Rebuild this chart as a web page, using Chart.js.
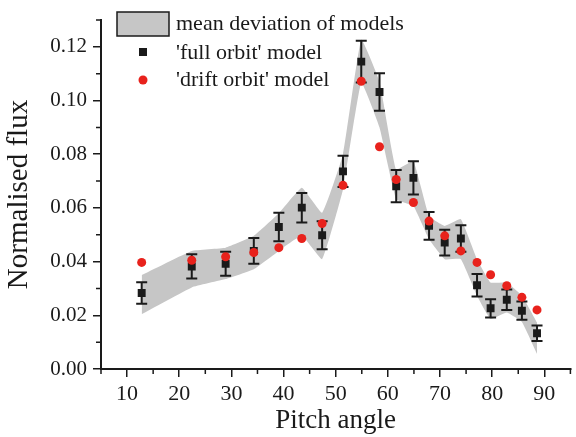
<!DOCTYPE html>
<html>
<head>
<meta charset="utf-8">
<script src="https://cdn.jsdelivr.net/npm/chart.js@4/dist/chart.umd.min.js"></script>
<style>
  html, body { margin: 0; padding: 0; background: #fff; }
  #wrap { width: 576px; height: 437px; }
</style>
</head>
<body>
<div id="wrap"><canvas id="fluxChart" width="576" height="437"></canvas></div>
<script>
// pitch angles of the measurement points
const angles = [12.8, 22.4, 28.9, 34.3, 39.1, 43.5, 47.4, 51.4, 54.9, 58.4,
                61.6, 64.9, 67.9, 70.9, 74.0, 77.1, 79.7, 82.8, 85.7, 88.6];

// 'full orbit' model and its error bars
const fullOrbit = [0.0283, 0.0382, 0.0392, 0.0440, 0.0529, 0.0601, 0.0498, 0.0736, 0.1145, 0.1032,
                   0.0681, 0.0712, 0.0533, 0.0471, 0.0486, 0.0312, 0.0226, 0.0258, 0.0217, 0.0133];
const fullErr = [0.0040, 0.0045, 0.0045, 0.0048, 0.0053, 0.0055, 0.0052, 0.0058, 0.0078, 0.0070,
                 0.0060, 0.0062, 0.0052, 0.0048, 0.0049, 0.0042, 0.0034, 0.0038, 0.0034, 0.0029];

// 'drift orbit' model
const driftOrbit = [0.0397, 0.0405, 0.0418, 0.0434, 0.0452, 0.0486, 0.0542, 0.0684, 0.1072, 0.0828,
                    0.0706, 0.0620, 0.0551, 0.0496, 0.0440, 0.0397, 0.0351, 0.0310, 0.0267, 0.0220];

// mean deviation of models (band edges)
const bandUpper = [0.0350, 0.0440, 0.0452, 0.0496, 0.0580, 0.0675, 0.0582, 0.0800, 0.1227, 0.1070,
                   0.0743, 0.0774, 0.0570, 0.0533, 0.0558, 0.0409, 0.0322, 0.0322, 0.0273, 0.0173];
const bandLower = [0.0204, 0.0304, 0.0335, 0.0372, 0.0440, 0.0496, 0.0409, 0.0669, 0.1067, 0.0900,
                   0.0632, 0.0607, 0.0483, 0.0409, 0.0409, 0.0273, 0.0186, 0.0210, 0.0175, 0.0056];

const xTicks = [10, 20, 30, 40, 50, 60, 70, 80, 90];
const xMinorTicks = [5, 15, 25, 35, 45, 55, 65, 75, 85, 95];
const yTicks = [0, 0.02, 0.04, 0.06, 0.08, 0.10, 0.12];
const yMinorTicks = [0.01, 0.03, 0.05, 0.07, 0.09, 0.11, 0.13];

const SERIF = "'Liberation Serif', 'Times New Roman', serif";
const INK = '#1a1a1a';
const BAND = '#c6c6c6';
const RED = '#e8221c';

const pts = (ys) => angles.map((x, i) => ({ x: x, y: ys[i] }));

// error bars drawn just before the square markers
const errorBars = {
    id: 'errorBars',
    beforeDatasetDraw(chart, args) {
        if (args.index !== 1) return;
        const { ctx, scales: { x, y } } = chart;
        ctx.save();
        ctx.strokeStyle = INK;
        ctx.lineWidth = 2;
        angles.forEach((a, i) => {
            const px = x.getPixelForValue(a);
            const top = y.getPixelForValue(fullOrbit[i] + fullErr[i]);
            const bot = y.getPixelForValue(fullOrbit[i] - fullErr[i]);
            ctx.beginPath();
            ctx.moveTo(px, top); ctx.lineTo(px, bot);
            ctx.moveTo(px - 5.5, top); ctx.lineTo(px + 5.5, top);
            ctx.moveTo(px - 5.5, bot); ctx.lineTo(px + 5.5, bot);
            ctx.stroke();
        });
        ctx.restore();
    }
};

// minor tick marks on both axes
const minorTicks = {
    id: 'minorTicks',
    afterDraw(chart) {
        const { ctx, scales: { x, y }, chartArea } = chart;
        ctx.save();
        ctx.strokeStyle = INK;
        ctx.lineWidth = 1.5;
        ctx.beginPath();
        xMinorTicks.forEach(v => {
            const px = x.getPixelForValue(v);
            ctx.moveTo(px, chartArea.bottom);
            ctx.lineTo(px, chartArea.bottom + 5);
        });
        yMinorTicks.forEach(v => {
            const py = y.getPixelForValue(v);
            ctx.moveTo(chartArea.left, py);
            ctx.lineTo(chartArea.left - 5, py);
        });
        ctx.stroke();
        ctx.restore();
    }
};

// legend in the top left corner
const boxLegend = {
    id: 'boxLegend',
    afterDraw(chart) {
        const { ctx } = chart;
        ctx.save();
        ctx.font = '22px ' + SERIF;
        ctx.textBaseline = 'middle';
        ctx.textAlign = 'left';

        ctx.fillStyle = BAND;
        ctx.fillRect(117, 12, 52, 24);
        ctx.strokeStyle = INK;
        ctx.lineWidth = 1.5;
        ctx.strokeRect(117, 12, 52, 24);
        ctx.fillStyle = INK;
        ctx.fillText('mean deviation of models', 176, 24);

        ctx.fillRect(139, 48, 8, 8);
        ctx.fillText("'full orbit' model", 176, 53);

        ctx.fillStyle = RED;
        ctx.beginPath();
        ctx.arc(143, 80, 4.5, 0, Math.PI * 2);
        ctx.fill();
        ctx.fillStyle = INK;
        ctx.fillText("'drift orbit' model", 176, 80);
        ctx.restore();
    }
};

const ctx = document.getElementById('fluxChart').getContext('2d');
const fluxChart = new Chart(ctx, {
    type: 'scatter',
    data: {
        datasets: [
            {
                label: "'drift orbit' model",
                data: pts(driftOrbit),
                backgroundColor: RED,
                borderWidth: 0,
                pointRadius: 4.5,
                order: 0
            },
            {
                label: "'full orbit' model",
                data: pts(fullOrbit),
                backgroundColor: INK,
                borderWidth: 0,
                pointStyle: 'rect',
                pointRadius: 5.6,
                order: 1
            },
            {
                label: 'mean deviation of models',
                data: pts(bandUpper),
                showLine: true,
                borderWidth: 0,
                borderColor: 'rgba(0,0,0,0)',
                backgroundColor: BAND,
                pointRadius: 0,
                tension: 0.1,
                fill: '+1',
                order: 2
            },
            {
                label: 'band lower',
                data: pts(bandLower),
                showLine: true,
                borderWidth: 0,
                borderColor: 'rgba(0,0,0,0)',
                pointRadius: 0,
                tension: 0.1,
                fill: false,
                order: 3
            }
        ]
    },
    options: {
        responsive: false,
        animation: false,
        layout: { padding: { top: 20, right: 4, left: 0, bottom: 0 } },
        plugins: {
            legend: { display: false },
            tooltip: { enabled: false }
        },
        scales: {
            x: {
                type: 'linear',
                min: 5,
                max: 95,
                afterFit: (scale) => { scale.height = 68; },
                afterBuildTicks: (scale) => { scale.ticks = xTicks.map(v => ({ value: v })); },
                border: { display: true, color: INK, width: 2 },
                grid: { drawOnChartArea: false, drawTicks: true, tickLength: 8, color: INK, lineWidth: 1.5 },
                ticks: {
                    padding: 4,
                    color: INK,
                    font: { family: SERIF, size: 22 }
                },
                title: {
                    display: true,
                    text: 'Pitch angle',
                    color: INK,
                    font: { family: SERIF, size: 27 },
                    padding: { top: 0, bottom: 0 }
                }
            },
            y: {
                type: 'linear',
                min: 0,
                max: 0.13,
                afterFit: (scale) => { scale.width = 101; },
                afterBuildTicks: (scale) => { scale.ticks = yTicks.map(v => ({ value: v })); },
                border: { display: true, color: INK, width: 2 },
                grid: { drawOnChartArea: false, drawTicks: true, tickLength: 8, color: INK, lineWidth: 1.5 },
                ticks: {
                    padding: 6,
                    color: INK,
                    font: { family: SERIF, size: 21 },
                    callback: (v) => v.toFixed(2)
                },
                title: {
                    display: true,
                    text: 'Normalised flux',
                    color: INK,
                    font: { family: SERIF, size: 29 },
                    padding: { top: 2, bottom: 0 }
                }
            }
        }
    },
    plugins: [errorBars, minorTicks, boxLegend]
});
</script>
</body>
</html>
